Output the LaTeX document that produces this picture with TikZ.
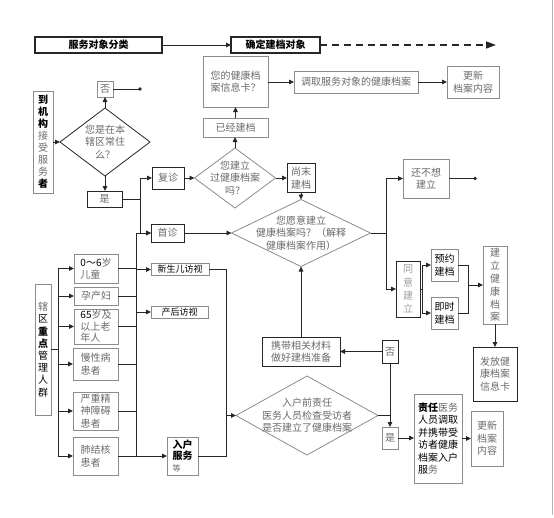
\documentclass[tikz,border=0pt]{standalone}
\usepackage{fontspec}
\setmainfont{Noto Sans CJK SC}
\usetikzlibrary{arrows.meta,shapes.geometric}
\definecolor{gt}{gray}{0.42}
\definecolor{gb}{gray}{0.55}
\definecolor{db}{gray}{0.15}
\begin{document}
\begin{tikzpicture}[x=1pt,y=-1pt,
 every node/.style={inner sep=0pt, outer sep=0pt},
 wh/.style 2 args={minimum width=#1pt, minimum height=#2pt},
 bx/.style={draw=gb, line width=0.8pt, text=gt, align=center, font=\fontsize{10}{12.5}\selectfont},
 dbx/.style={bx, draw=db, line width=1pt},
 dia/.style={diamond, draw=gb, line width=0.8pt},
 txt/.style={text=gt, align=center, font=\fontsize{10}{12.5}\selectfont},
 ln/.style={draw=db, line width=0.9pt},
 arr/.style={ln, -{Triangle[length=5pt,width=4.5pt]}},
 bk/.style={text=black},
]
\path[use as bounding box, fill=white] (0,0) rectangle (554,517);
\draw[gray!60, line width=0.8pt] (552,0) -- (552,515);

% top bar
\node[dbx, wh={127}{16}, line width=1.2pt, text=black, font=\bfseries\fontsize{10}{12}\selectfont] (svc) at (98.5,45) {服务对象分类};
\node[dbx, wh={89}{16}, line width=1.2pt, text=black, font=\bfseries\fontsize{10}{12}\selectfont] (det) at (275.5,45) {确定建档对象};
\coordinate (dend) at (496,45);
\draw[arr] (svc) -- (det);
\draw[ln, line width=1.4pt, dash pattern=on 7pt off 5pt, -{Triangle[length=10pt,width=7pt]}] (det.east) -- (dend);

% upper right flow
\node[bx, wh={65}{51}] (info) at (235.5,81.5) {您的健康档\\案信息卡？};
\node[bx, wh={124}{22}] (fetch) at (356,82) {调取服务对象的健康档案};
\node[bx, wh={52}{32}] (upd1) at (473,82) {更新\\档案内容};
\node[bx, wh={65}{19}] (built) at (235.5,127.5) {已经建档};
\node[dia, wh={81}{60}] (d1) at (235,178) {};
\node[txt] (d1t) at (d1) {您建立\\过健康档案\\吗？};
\node[dbx, wh={28}{29}] (notyet) at (301,178) {尚末\\建档};
\node[dia, wh={139}{67}] (d2) at (301,233) {};
\node[txt] (d2t) at (d2) {您愿意建立\\健康档案吗？（解释\\健康档案作用）};
\node[bx, wh={46}{39}] (nowant) at (426,178.5) {还不想\\建立};
\coordinate (dot2) at (475,178.5);
\node[dbx, wh={24}{56}, text=gray!75, font=\fontsize{10}{13.3}\selectfont] (agree) at (408,289) {同\\意\\建\\立};
\node[bx, wh={27}{32}, bk] (yuyue) at (444.5,265) {预约\\建档};
\node[bx, wh={27}{32}, bk] (jishi) at (444.5,313) {即时\\建档};
\node[bx, wh={24}{78}, font=\fontsize{10}{12.8}\selectfont] (build) at (495,285) {建\\立\\健\\康\\档\\案};
\node[dbx, wh={44}{54}] (card) at (495,374) {发放健\\康档案\\信息卡};

\draw[arr] (info.east|-fetch.west) -- (fetch.west);
\draw[arr] (fetch) -- (upd1);
\draw[arr] (built.north) -- (built.north|-info.south);
\draw[arr] (d1.north) -- (built.south-|d1.north);
\draw[arr] (d1.east) -- (notyet.west);
\draw[arr] (notyet.south) -- (d2.north);
\coordinate (sp1) at (386,233);
\draw[ln] (d2.east) -- (sp1);
\draw[arr] (sp1) |- (nowant.west);
\draw[arr] (sp1) |- (agree.west);
\draw[ln] (nowant.east) -- (dot2);
\fill[db] (dot2) circle (1.8pt);
\coordinate (sp2) at (422,289);
\draw[ln] (agree.east) -- (sp2);
\draw[arr] (sp2) |- (yuyue.west);
\draw[arr] (sp2) |- (jishi.west);
\coordinate (sp3) at (468,285);
\draw[ln] (yuyue.east) -| (sp3);
\draw[ln] (jishi.east) -| (sp3);
\draw[arr] (sp3) -- (build.west);
\draw[arr] (build.south) -- (card.north);

% left upper
\node[bx, wh={20}{102}, font=\fontsize{10}{12}\selectfont] (arrive) at (43,142) {\textbf{\color{black}到}\\\textbf{\color{black}机}\\\textbf{\color{black}构}\\接\\受\\服\\务\\\textbf{\color{black}者}};
\node[dia, draw=db, wh={90}{68}] (d0) at (105,142) {};
\node[txt] (d0t) at (d0) {您是在本\\辖区常住\\么？};
\node[bx, wh={16}{16}] (no1) at (105,89) {否};
\coordinate (dot1) at (140,89);
\node[dbx, wh={35}{16}] (yes1) at (104.5,199) {是};
\node[dbx, wh={32}{22}] (fz) at (168,178) {复诊};
\node[dbx, wh={33}{18}] (sz) at (167.5,233) {首诊};

\draw[arr] (arrive.east) -- (d0.west);
\draw[arr] (d0.north) -- (no1.south);
\draw[ln] (no1.east) -- (dot1);
\fill[db] (dot1) circle (1.8pt);
\draw[arr] (d0.south) -- (yes1.north-|d0.south);
\coordinate (sp4) at (140,199);
\draw[ln] (yes1.east) -- (sp4);
\draw[arr] (sp4) |- (fz.west);
\draw[arr] (sp4) |- (sz.west);
\draw[arr] (fz.east) -- (d1.west);
\draw[arr] (sz.east) -- (d2.west);

% left lower
\node[bx, wh={16}{131}, text=black, font=\fontsize{10}{12.2}\selectfont] (key) at (43,349.5) {{\color{gt}辖}\\区\\\textbf{重}\\\textbf{点}\\管\\理\\人\\群};
\node[bx, wh={44}{29}, align=left] (c1) at (96,268.5) {{\color{black}0～6}岁\\儿童};
\node[bx, wh={44}{18}, align=left] (c2) at (96,296) {孕产妇};
\node[bx, wh={44}{35}, align=left, font=\fontsize{10}{11.5}\selectfont] (c3) at (96,326.5) {{\color{black}65}岁及\\以上老\\年人};
\node[bx, wh={45}{32}, align=left] (c4) at (95.5,364) {慢性病\\患者};
\node[bx, wh={45}{38}, align=left] (c5) at (95.5,411) {严重精\\神障碍\\患者};
\node[bx, wh={45}{38}, align=left] (c6) at (95.5,456) {肺结核\\患者};
\node[bx, wh={58}{12}, bk, font=\fontsize{9}{11}\selectfont] (xsr) at (180,269.5) {新生儿访视};
\node[bx, wh={57}{12}, bk, font=\fontsize{9}{11}\selectfont] (chh) at (179.5,312) {产后访视};
\node[bx, wh={31}{38}, align=left, text=black, font=\fontsize{10}{11.5}\selectfont] (rh) at (182.5,456) {\textbf{入户}\\\textbf{服务}\\{\color{gt}\fontsize{8}{10}\selectfont 等}};

\coordinate (sp5) at (58,349.5);
\draw[ln] (key.east) -- (sp5);
\foreach \c in {c1,c2,c3,c4,c5,c6} {\draw[arr] (sp5) |- (\c.west);}
\coordinate (bt) at (136,233);
\coordinate (bb) at (136,456);
\draw[ln] (bt) -- (bb);
\draw[arr] (bt) -- (sz.west);
\foreach \c in {c1,c2,c3,c4,c5,c6} {\draw[ln] (\c.east) -- (\c.east-|bt);}
\draw[arr] (bt|-xsr.west) -- (xsr.west);
\draw[arr] (bt|-chh.west) -- (chh.west);
\draw[arr] (bb) -- (rh.west);

% lower middle / right
\node[dia, wh={142}{79}] (d3) at (307,415.5) {};
\node[txt] (d3t) at (d3) {入户前责任\\医务人员检查受访者\\是否建立了健康档案};
\node[dbx, wh={16}{23}] (no2) at (390,351.5) {否};
\node[dbx, wh={78}{29}] (carry) at (301,351.5) {携带相关材料\\做好建档准备};
\node[bx, wh={16}{22}] (yes2) at (390,438) {是};
\node[bx, wh={48}{89}, align=left, text=black, font=\fontsize{10}{12.5}\selectfont] (resp) at (438,438.5) {\textbf{责任}{\color{gt}医务}\\人员调取\\并携带受\\访者健康\\档案入户\\服{\color{gt}务}};
\node[bx, wh={32}{55}] (upd2) at (487,438.5) {更新\\档案\\内容};

\coordinate (sp6) at (226,415.5);
\draw[ln] (xsr.east) -| (sp6);
\draw[ln] (rh.east) -| (sp6);
\draw[arr] (sp6) -- (d3.west);
\draw[ln] (d3.east) -- (d3.east-|no2.south);
\draw[arr] (no2.south) -- (yes2.north);
\draw[arr] (no2.west) -- (carry.east);
\draw[arr] (carry.north) -- (d2.south);
\draw[arr] (yes2.east) -- (resp.west|-yes2.east);
\draw[arr] (resp.east|-upd2.west) -- (upd2.west);
\end{tikzpicture}
\end{document}
